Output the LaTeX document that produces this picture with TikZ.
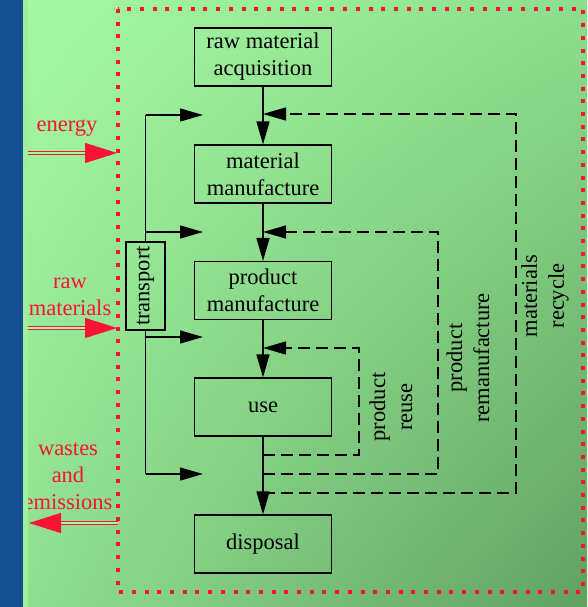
\documentclass[tikz,border=0pt]{standalone}
\usepackage{fontspec}
\setmainfont{Liberation Serif}
\usetikzlibrary{arrows.meta,shadings}
\definecolor{myred}{RGB}{252,18,52}
\definecolor{bgUL}{RGB}{166,250,164}
\definecolor{bgUR}{RGB}{140,222,140}
\definecolor{bgLL}{RGB}{146,226,146}
\definecolor{bgLR}{RGB}{96,160,96}
\definecolor{stripblue}{RGB}{20,80,144}
\definecolor{stripgreen}{RGB}{158,240,156}
\begin{document}
\begin{tikzpicture}[x=1pt,y=-1pt,
  font=\fontsize{22.5}{27}\selectfont,
  box/.style={draw=black, line width=1.1pt, minimum width=137pt, minimum height=58pt, align=center, inner sep=0pt},
  flow/.style={draw=black, line width=1.2pt, -{Triangle[length=23pt,width=13pt]}},
  plainline/.style={draw=black, line width=1.2pt},
  fb/.style={draw=black, line width=1.2pt, dash pattern=on 12pt off 6pt, -{Triangle[length=23pt,width=13pt]}},
  vlbl/.style={rotate=90, align=center, inner sep=0pt},
  rtxt/.style={text=myred, align=center, inner sep=0pt},
  redarrow/.style={draw=myred, line width=1pt, double=bgUL, double distance=2pt, -{Triangle[length=32pt,width=20pt]}},
  frame/.style={draw=myred, line width=4pt, dash pattern=on 4pt off 8.7pt}
]
\useasboundingbox (0,0) rectangle (587,607);
% background
\shade[upper left=bgUL, upper right=bgUR, lower left=bgLL, lower right=bgLR] (0,0) rectangle (587,607);

% red frame
\draw[frame] (118,9) rectangle (583,592);

% boxes
\node[box] (b1) at (263,57) {raw material\\acquisition};
\node[box] (b2) at (263,174) {material\\manufacture};
\node[box] (b3) at (263,290.5) {product\\manufacture};
\node[box] (b4) at (263,407) {use};
\node[box] (b5) at (263,544) {disposal};

% main flow
\draw[flow] (b1.south) -- (b2.north);
\draw[flow] (b2.south) -- (b3.north);
\draw[flow] (b3.south) -- (b4.north);
\draw[flow] (b4.south) -- (b5.north);

% feedback loops
\coordinate (mrS) at (263,493);
\coordinate (mrB) at (516,493);
\coordinate (mrT) at (516,114);
\coordinate (mrE) at (263,114);
\draw[fb] (mrS) -- (mrB) -- (mrT) -- (mrE);

\coordinate (pmS) at (263,474);
\coordinate (pmB) at (438,474);
\coordinate (pmT) at (438,232);
\coordinate (pmE) at (263,232);
\draw[fb] (pmS) -- (pmB) -- (pmT) -- (pmE);

\coordinate (prS) at (263,455);
\coordinate (prB) at (359,455);
\coordinate (prT) at (359,348);
\coordinate (prE) at (263,348);
\draw[fb] (prS) -- (prB) -- (prT) -- (prE);

% loop labels
\node[vlbl] (lpr) at (391,407) {product\\reuse};
\node[vlbl] (lpm) at (468,358) {product\\remanufacture};
\node[vlbl] (lmr) at (545,296) {materials\\recycle};

% transport
\node[draw=black, line width=1.1pt, rotate=90, minimum width=88pt, minimum height=39pt, inner sep=0pt] (tr) at (145.5,286) {transport};
\coordinate (t1) at (145.5,115);
\coordinate (t2) at (145.5,232);
\coordinate (t3) at (145.5,337);
\coordinate (t4) at (145.5,474);
\coordinate (a1) at (203,115);
\coordinate (a2) at (203,232);
\coordinate (a3) at (203,337);
\coordinate (a4) at (203,474);
\draw[plainline] (t1) -- (tr.east);
\draw[plainline] (tr.west) -- (t4);
\draw[flow] (t1) -- (a1);
\draw[flow] (t2) -- (a2);
\draw[flow] (t3) -- (a3);
\draw[flow] (t4) -- (a4);

% red inputs / outputs
\node[rtxt] (len) at (67,128) {energy};
\node[rtxt] (lrm) at (70,297) {raw\\materials};
\node[rtxt] (lwe) at (68,476) {wastes\\and\\emissions};
\coordinate (enS) at (28,153);
\coordinate (enE) at (117,153);
\coordinate (rmS) at (28,328);
\coordinate (rmE) at (117,328);
\coordinate (weS) at (118,523);
\coordinate (weE) at (29,523);
\draw[redarrow] (enS) -- (enE);
\draw[redarrow] (rmS) -- (rmE);
\draw[redarrow] (weS) -- (weE);

% left strip
\fill[stripblue] (0,0) rectangle (23,607);
\fill[stripgreen] (23,0) rectangle (28,607);
\end{tikzpicture}
\end{document}
